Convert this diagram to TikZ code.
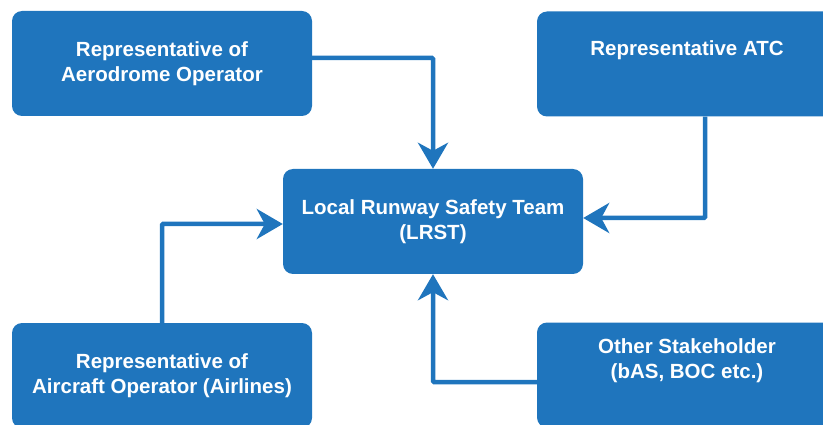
\documentclass[tikz,border=0pt]{standalone}
\usepackage{fontspec}
\setmainfont{Liberation Sans}
\usepackage{tikz}
\usetikzlibrary{calc,shapes,positioning}
\usetikzlibrary{arrows.meta}
\definecolor{teamblue}{RGB}{31,117,189}
\tikzset{>={Stealth[length=26pt,width=30pt,inset=8pt]}}

\begin{document}
\begin{tikzpicture}[x=1pt,y=-1pt]
      \tikzstyle{bnode} = [fill=teamblue, rectangle, rounded corners = 10pt, minimum width = 300pt, minimum height = 105pt, inner sep = 0pt, align=center, text=white, font=\fontsize{20.5}{25}\selectfont\bfseries]
      \tikzstyle{link} = [draw=teamblue, line width = 4.5pt, ->, rounded corners = 1pt]

      \useasboundingbox (0,0) rectangle (823,425);

      \node[bnode] (aero) at (162,63.5) {Representative of\\ Aerodrome Operator};
      \node[bnode] (atc) at (687,64) {Representative ATC\\ \strut};
      \node[bnode] (lrst) at (433,221.5) {Local Runway Safety Team\\ (LRST)};
      \node[bnode] (acft) at (162,375.5) {Representative of\\ Aircraft Operator (Airlines)};
      \node[bnode] (other) at (687,375) {Other Stakeholder\\ (bAS, BOC etc.)\\ \strut};

      % edges into the team
      \draw[link] ([yshift=5.5pt]aero.east) -| (lrst.north);
      \draw[link] ([xshift=18pt]atc.south) |- ([yshift=3.5pt]lrst.east);
      \draw[link] (acft.north) |- ([yshift=-2.5pt]lrst.west);
      \draw[link] ([yshift=-7pt]other.west) -| (lrst.south);
\end{tikzpicture}
\end{document}
